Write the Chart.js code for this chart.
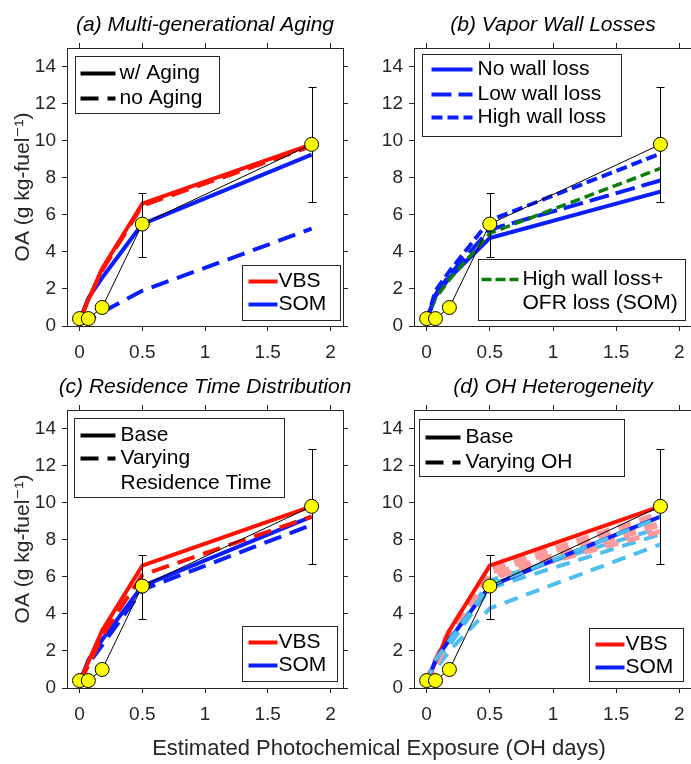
<!DOCTYPE html>
<html>
<head>
<meta charset="utf-8">
<title>OA enhancement vs. photochemical exposure</title>
<script src="https://cdn.jsdelivr.net/npm/chart.js@4.4.1/dist/chart.umd.min.js"></script>
<style>
  html, body { margin: 0; padding: 0; background: #ffffff; }
  #figure { position: relative; width: 691px; height: 764px; overflow: hidden; background: #ffffff; }
  #figure canvas { position: absolute; left: 0; }
  #xlabel { position: absolute; left: 0; top: 736px; width: 758px; text-align: center;
            font-family: 'Liberation Sans', Arial, sans-serif; font-size: 22px; line-height: 24px;
            color: #262626; white-space: nowrap; }
</style>
</head>
<body>
<div id="figure">
  <canvas id="panelA" width="700" height="382" style="top:0px"></canvas>
  <canvas id="panelB" width="700" height="382" style="top:0px"></canvas>
  <canvas id="panelC" width="700" height="382" style="top:362px"></canvas>
  <canvas id="panelD" width="700" height="382" style="top:362px"></canvas>
  <div id="xlabel">Estimated Photochemical Exposure (OH days)</div>
</div>
<script>
// ---------------- data ----------------
const exposureTicks = [0, 0.5, 1, 1.5, 2];
const oaTicks = [0, 2, 4, 6, 8, 10, 12, 14];

// measured OA and its uncertainty at the two longest exposures
const obsExposure = [0, 0.07, 0.18, 0.5, 1.85];
const obsOA = [0.4, 0.4, 1.0, 5.5, 9.8];
const errExposure = [0.5, 1.85];
const errLow = [3.75, 6.7];
const errHigh = [7.2, 12.9];

// model exposures
const modelExposure = [0, 0.07, 0.18, 0.5, 1.85];

// base runs (with multi-generational aging)
const vbsBase = [0.3, 1.4, 3.1, 6.6, 9.8];
const somBase = [0.3, 1.5, 2.6, 5.5, 9.25];

// (a) aging switched off
const vbsNoAging = [0.3, 1.4, 3.0, 6.5, 9.7];
const somNoAging = [0.1, 0.3, 0.75, 1.9, 5.25];

// (b) vapor wall losses (SOM)
const somNoWall = [0.3, 1.6, 2.6, 4.75, 7.25];
const somLowWall = [0.3, 1.7, 2.75, 5.2, 7.85];
const somHighWall = [0.3, 1.9, 2.95, 5.7, 9.3];
const somHighWallOfr = [0.3, 1.5, 2.5, 5.0, 8.5];

// (c) residence time distribution
const vbsResTime = [0.3, 1.2, 2.8, 6.1, 9.25];
const somResTime = [0.3, 1.3, 2.3, 5.3, 8.8];

// (d) OH heterogeneity
const vbsOH1 = [0.3, 1.35, 2.95, 6.3, 9.35];
const vbsOH2 = [0.3, 1.3, 2.85, 6.05, 8.85];
const vbsOH3 = [0.3, 1.3, 2.75, 5.9, 8.45];
const somOH1 = [0.3, 1.5, 2.55, 5.55, 9.2];
const somOH2 = [0.3, 1.5, 2.5, 5.8, 8.65];
const somOH3 = [0.3, 1.4, 2.3, 5.4, 8.3];
const somOH4 = [0.2, 1.0, 2.0, 4.3, 7.75];

// ---------------- styling ----------------
const FONT = "'Liberation Sans', 'DejaVu Sans', Arial, sans-serif";
const AXIS = '#262626';
const RED = '#ff1200';
const BLUE = '#0a1eff';
const GREEN = '#0b7d0b';
const LIGHTBLUE = '#4dbeee';
const PINK = '#ff9a9a';
const YELLOW = '#ffff00';
const DASH = [18, 9];

Chart.defaults.font.family = FONT;

function series(values, color, width, dash) {
  return {
    data: modelExposure.map((x, i) => ({ x: x, y: values[i] })),
    showLine: true,
    borderColor: color,
    borderWidth: width,
    borderDash: dash || [],
    borderJoinStyle: 'round',
    pointRadius: 0,
    fill: false,
    tension: 0
  };
}

function observations() {
  return {
    data: obsExposure.map((x, i) => ({ x: x, y: obsOA[i] })),
    showLine: true,
    borderColor: '#000000',
    borderWidth: 1,
    pointRadius: 7,
    pointBackgroundColor: YELLOW,
    pointBorderColor: '#000000',
    pointBorderWidth: 1,
    tension: 0
  };
}

// error bars, drawn just before the observation markers
const errorBars = {
  id: 'errorBars',
  beforeDatasetDraw(chart, args) {
    if (args.index !== 0) return;
    const ctx = chart.ctx, xs = chart.scales.x, ys = chart.scales.y;
    ctx.save();
    ctx.strokeStyle = '#000000';
    ctx.lineWidth = 1;
    errExposure.forEach((e, i) => {
      const px = Math.round(xs.getPixelForValue(e)) + 0.5;
      const lo = Math.round(ys.getPixelForValue(errLow[i])) + 0.5;
      const hi = Math.round(ys.getPixelForValue(errHigh[i])) + 0.5;
      ctx.beginPath();
      ctx.moveTo(px, lo); ctx.lineTo(px, hi);
      ctx.moveTo(px - 4, lo); ctx.lineTo(px + 4, lo);
      ctx.moveTo(px - 4, hi); ctx.lineTo(px + 4, hi);
      ctx.stroke();
    });
    ctx.restore();
  }
};

// italic panel heading above each axes box
const panelTitle = {
  id: 'panelTitle',
  afterDraw(chart, args, opts) {
    const ctx = chart.ctx, ca = chart.chartArea;
    ctx.save();
    ctx.font = 'italic 21px ' + FONT;
    ctx.fillStyle = '#000000';
    ctx.textAlign = 'center';
    ctx.textBaseline = 'middle';
    ctx.fillText(opts.text, (ca.left + ca.right) / 2, ca.top - 23);
    ctx.restore();
  }
};

// boxed legends placed inside the axes
const panelLegend = {
  id: 'panelLegend',
  afterDraw(chart, args, opts) {
    const ctx = chart.ctx, ca = chart.chartArea;
    (opts.boxes || []).forEach(b => {
      const x = Math.round(ca.left + b.x) + 0.5, y = Math.round(ca.top + b.y) + 0.5;
      ctx.save();
      ctx.fillStyle = '#ffffff';
      ctx.fillRect(x, y, b.w, b.h);
      ctx.strokeStyle = AXIS;
      ctx.lineWidth = 1;
      ctx.strokeRect(x, y, b.w, b.h);
      ctx.font = '21px ' + FONT;
      ctx.textBaseline = 'middle';
      ctx.textAlign = 'left';
      b.rows.forEach(r => {
        const ry = y + r.dy;
        if (r.color) {
          ctx.beginPath();
          ctx.setLineDash(r.dash || []);
          ctx.strokeStyle = r.color;
          ctx.lineWidth = r.width || 4;
          ctx.lineCap = 'butt';
          ctx.moveTo(x + b.s0, ry);
          ctx.lineTo(x + b.s1, ry);
          ctx.stroke();
          ctx.setLineDash([]);
        }
        ctx.fillStyle = '#000000';
        ctx.fillText(r.text, x + b.tx, ry);
      });
      ctx.restore();
    });
  }
};

function buildChart(id, side, title, datasets, legendBoxes, yTitle) {
  const isLeft = side === 'left';
  const edgeGrid = { drawOnChartArea: false, drawTicks: true, tickLength: 5, tickColor: AXIS, tickWidth: 1, color: AXIS };
  const edgeBorder = { display: true, color: AXIS, width: 1 };
  const tickFont = { family: FONT, size: 19 };
  const setX = s => { s.ticks = exposureTicks.map(v => ({ value: v })); };
  const setY = s => { s.ticks = oaTicks.map(v => ({ value: v })); };
  return new Chart(document.getElementById(id), {
    type: 'scatter',
    data: { datasets: datasets },
    plugins: [errorBars, panelTitle, panelLegend],
    options: {
      responsive: false,
      animation: false,
      events: [],
      layout: {
        autoPadding: false,
        padding: isLeft ? { left: 0, right: 352, top: 43, bottom: 16 }
                        : { left: 347, right: 3, top: 43, bottom: 16 }
      },
      scales: {
        x: {
          type: 'linear', position: 'bottom', min: -0.1, max: 2.1,
          grid: edgeGrid, border: edgeBorder,
          afterBuildTicks: setX,
          ticks: { color: AXIS, font: tickFont, padding: 10, maxRotation: 0, autoSkip: false,
                   callback: v => String(v) },
          afterFit: s => { s.height = 40; }
        },
        x2: {
          type: 'linear', position: 'top', min: -0.1, max: 2.1,
          grid: edgeGrid, border: edgeBorder,
          afterBuildTicks: setX,
          ticks: { display: false },
          afterFit: s => { s.height = 5; }
        },
        y: {
          type: 'linear', position: 'left', min: 0, max: 15,
          grid: edgeGrid, border: edgeBorder,
          afterBuildTicks: setY,
          ticks: { color: AXIS, font: tickFont, padding: 6, autoSkip: false, callback: v => String(v) },
          title: { display: !!yTitle, text: yTitle || '', color: AXIS,
                   font: { family: FONT, size: 21 }, padding: { top: 11, bottom: 0 } },
          afterFit: s => { s.width = 67; }
        },
        y2: {
          type: 'linear', position: 'right', min: 0, max: 15,
          grid: edgeGrid, border: edgeBorder,
          afterBuildTicks: setY,
          ticks: { display: false },
          afterFit: s => { s.width = 5; }
        }
      },
      plugins: {
        legend: { display: false },
        tooltip: { enabled: false },
        panelTitle: { text: title },
        panelLegend: { boxes: legendBoxes }
      }
    }
  });
}

const Y_TITLE = 'OA (g kg-fuel\u207B\u00B9)';

// model-type legend (bottom right)
function modelLegend(x, y, w, h) {
  return { x: x, y: y, w: w, h: h, s0: 6, s1: 35, tx: 36, rows: [
    { dy: 16, color: RED, text: 'VBS' },
    { dy: 39, color: BLUE, text: 'SOM' }
  ] };
}

// (a) Multi-generational Aging
buildChart('panelA', 'left', '(a) Multi-generational Aging', [
  observations(),
  series(vbsBase, RED, 4),
  series(vbsNoAging, RED, 4, DASH),
  series(somBase, BLUE, 4),
  series(somNoAging, BLUE, 4, DASH)
], [
  { x: 8, y: 8, w: 144, h: 57, s0: 5, s1: 40, tx: 44, rows: [
    { dy: 17, color: '#000000', text: 'w/ Aging' },
    { dy: 42, color: '#000000', dash: DASH, text: 'no Aging' }
  ] },
  modelLegend(175, 217, 98, 55)
], Y_TITLE);

// (b) Vapor Wall Losses
buildChart('panelB', 'right', '(b) Vapor Wall Losses', [
  observations(),
  series(somHighWall, BLUE, 4, [11, 5]),
  series(somHighWallOfr, GREEN, 3.5, [10, 5]),
  series(somLowWall, BLUE, 4, [20, 7]),
  series(somNoWall, BLUE, 4)
], [
  { x: 8, y: 6, w: 199, h: 82, s0: 9, s1: 50, tx: 55, rows: [
    { dy: 15, color: BLUE, text: 'No wall loss' },
    { dy: 40, color: BLUE, dash: [20, 7], text: 'Low wall loss' },
    { dy: 63, color: BLUE, dash: [11, 5], text: 'High wall loss' }
  ] },
  { x: 64, y: 211, w: 207, h: 61, s0: 3, s1: 40, tx: 44, rows: [
    { dy: 20, color: GREEN, width: 3.5, dash: [10, 4], text: 'High wall loss+' },
    { dy: 44, text: 'OFR loss (SOM)' }
  ] }
], null);

// (c) Residence Time Distribution
buildChart('panelC', 'left', '(c) Residence Time Distribution', [
  observations(),
  series(vbsBase, RED, 4),
  series(vbsResTime, RED, 4, DASH),
  series(somBase, BLUE, 4),
  series(somResTime, BLUE, 4, DASH)
], [
  { x: 7, y: 8, w: 210, h: 79, s0: 6, s1: 41, tx: 46, rows: [
    { dy: 17, color: '#000000', text: 'Base' },
    { dy: 40, color: '#000000', dash: DASH, text: 'Varying' },
    { dy: 65, text: 'Residence Time' }
  ] },
  modelLegend(175, 216, 95, 55)
], Y_TITLE);

// (d) OH Heterogeneity: light-red / light-blue dashed members of the varying-OH ensemble
buildChart('panelD', 'right', '(d) OH Heterogeneity', [
  observations(),
  series(somOH1, LIGHTBLUE, 4, [14, 9]),
  series(somBase, BLUE, 4),
  series(vbsBase, RED, 4),
  series(vbsOH1, PINK, 8, [13, 9]),
  series(vbsOH2, PINK, 7, [13, 9]),
  series(vbsOH3, PINK, 5, [13, 9]),
  series(somOH2, LIGHTBLUE, 4, [14, 9]),
  series(somOH3, LIGHTBLUE, 4, [14, 9]),
  series(somOH4, LIGHTBLUE, 4, [14, 9])
], [
  { x: 5, y: 9, w: 205, h: 57, s0: 6, s1: 41, tx: 46, rows: [
    { dy: 18, color: '#000000', text: 'Base' },
    { dy: 43, color: '#000000', dash: DASH, text: 'Varying OH' }
  ] },
  modelLegend(175, 218, 94, 53)
], null);
</script>
</body>
</html>
